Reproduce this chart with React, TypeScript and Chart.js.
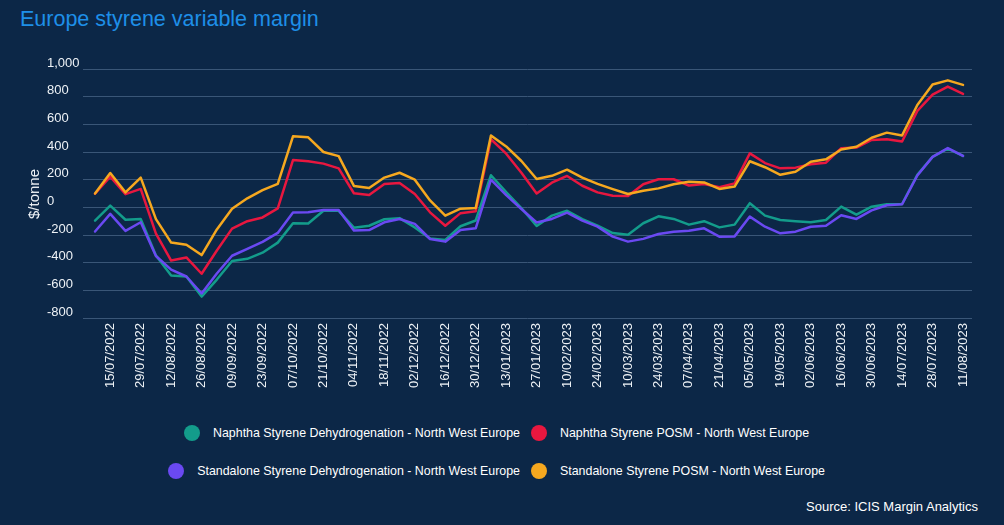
import React, { useEffect, useRef } from "react";
import { Chart, registerables } from "chart.js";

Chart.register(...registerables);

const weekLabels = [
  "08/07/2022", "15/07/2022", "22/07/2022", "29/07/2022", "05/08/2022", "12/08/2022",
  "19/08/2022", "26/08/2022", "02/09/2022", "09/09/2022", "16/09/2022", "23/09/2022",
  "30/09/2022", "07/10/2022", "14/10/2022", "21/10/2022", "28/10/2022", "04/11/2022",
  "11/11/2022", "18/11/2022", "25/11/2022", "02/12/2022", "09/12/2022", "16/12/2022",
  "23/12/2022", "30/12/2022", "06/01/2023", "13/01/2023", "20/01/2023", "27/01/2023",
  "03/02/2023", "10/02/2023", "17/02/2023", "24/02/2023", "03/03/2023", "10/03/2023",
  "17/03/2023", "24/03/2023", "31/03/2023", "07/04/2023", "14/04/2023", "21/04/2023",
  "28/04/2023", "05/05/2023", "12/05/2023", "19/05/2023", "26/05/2023", "02/06/2023",
  "09/06/2023", "16/06/2023", "23/06/2023", "30/06/2023", "07/07/2023", "14/07/2023",
  "21/07/2023", "28/07/2023", "04/08/2023", "11/08/2023",
];

const naphthaDehydrogenation = [
  -96, 12, -90, -85, -348, -493, -500, -645, -522, -388, -372, -328, -255, -115, -117, -25,
  -25, -147, -133, -86, -78, -145, -225, -236, -137, -95, 232, 110, -5, -135, -60, -25,
  -85, -132, -186, -198, -115, -65, -84, -125, -100, -145, -125, 30, -60, -92, -101, -108,
  -92, 5, -53, 5, 22, 24, 235, 365, 425, 372,
];

const naphthaPosm = [
  98, 222, 95, 133, -190, -385, -362, -480, -312, -154, -100, -73, -8, 342, 333, 316,
  282, 102, 89, 168, 176, 96, -36, -133, -42, -28, 492, 388, 250, 100, 178, 227,
  156, 108, 84, 82, 167, 203, 203, 158, 168, 145, 173, 390, 320, 282, 287, 312,
  323, 428, 432, 487, 492, 476, 697, 815, 873, 820,
];

const standaloneDehydrogenation = [
  -175, -47, -170, -108, -352, -450, -500, -623, -478, -350, -300, -250, -185, -38, -35, -20,
  -20, -168, -164, -108, -84, -120, -229, -248, -164, -152, 200, 88, -12, -110, -84, -38,
  -96, -140, -212, -248, -228, -193, -176, -169, -152, -212, -210, -67, -140, -188, -176, -140,
  -133, -57, -84, -22, 15, 22, 230, 365, 428, 372,
];

const standalonePosm = [
  100, 248, 108, 215, -85, -255, -270, -345, -160, -10, 65, 125, 170, 513, 506, 400,
  370, 155, 140, 215, 250, 200, 50, -60, -10, -5, 520, 440, 335, 205, 228, 272,
  215, 170, 132, 96, 120, 137, 167, 185, 180, 133, 150, 333, 290, 235, 257, 330,
  347, 418, 438, 503, 540, 520, 740, 888, 918, 885,
];

const yTicks = [-800, -600, -400, -200, 0, 200, 400, 600, 800, 1000];

const seriesNames = [
  "Naphtha Styrene Dehydrogenation - North West Europe",
  "Naphtha Styrene POSM - North West Europe",
  "Standalone Styrene Dehydrogenation - North West Europe",
  "Standalone Styrene POSM - North West Europe",
];

const BG = "#0c2747";
const TEXT = "#eef2f6";
const GRID = "#3a5677";
const TEAL = "#139c8b";
const RED = "#e8173f";
const PURPLE = "#6a49f2";
const ORANGE = "#f6a81f";
const FONT = "'Liberation Sans', Arial, sans-serif";

function LegendItem({ color, text }: { color: string; text: string }) {
  return (
    <div style={{ display: "flex", alignItems: "center", height: 20 }}>
      <div
        style={{
          width: 16,
          height: 16,
          borderRadius: "50%",
          background: color,
          marginRight: 13,
          flex: "0 0 auto",
        }}
      />
      <span style={{ fontSize: 12.4, color: "#ffffff", whiteSpace: "nowrap" }}>{text}</span>
    </div>
  );
}

export default function App() {
  const canvasRef = useRef<HTMLCanvasElement>(null);

  useEffect(() => {
    const canvas = canvasRef.current;
    if (!canvas) return;
    const toPoints = (arr: number[]) => arr.map((y, x) => ({ x, y }));
    const chart = new Chart(canvas, {
      type: "line",
      data: {
        datasets: [
          { label: seriesNames[0], data: toPoints(naphthaDehydrogenation), borderColor: TEAL, backgroundColor: TEAL, order: 4 },
          { label: seriesNames[1], data: toPoints(naphthaPosm), borderColor: RED, backgroundColor: RED, order: 3 },
          { label: seriesNames[2], data: toPoints(standaloneDehydrogenation), borderColor: PURPLE, backgroundColor: PURPLE, order: 2 },
          { label: seriesNames[3], data: toPoints(standalonePosm), borderColor: ORANGE, backgroundColor: ORANGE, order: 1 },
        ],
      },
      options: {
        animation: false,
        responsive: false,
        devicePixelRatio: 1,
        layout: { padding: { top: 69, right: 32, bottom: 0, left: 47 } },
        elements: {
          point: { radius: 0, hoverRadius: 0 },
          line: { borderWidth: 2.5, tension: 0, borderJoinStyle: "round", borderCapStyle: "round" },
        },
        plugins: {
          legend: { display: false },
          tooltip: { enabled: false },
          title: { display: false },
        },
        scales: {
          x: {
            type: "linear",
            min: -0.79,
            max: 57.59,
            afterBuildTicks: (axis: any) => {
              axis.ticks = weekLabels.map((_, i) => ({ value: i }));
            },
            afterFit: (axis: any) => {
              axis.height = 82;
            },
            grid: { display: false, drawTicks: false },
            border: { display: false },
            ticks: {
              autoSkip: false,
              maxRotation: 90,
              minRotation: 90,
              padding: 5,
              color: TEXT,
              font: { family: FONT, size: 13 },
              callback: (v: any) => (Number.isInteger(v) && v % 2 === 1 ? weekLabels[v] : ""),
            },
          },
          y: {
            min: -800,
            max: 1000,
            afterBuildTicks: (axis: any) => {
              axis.ticks = yTicks.map((v) => ({ value: v }));
            },
            afterFit: (axis: any) => {
              axis.width = 36;
            },
            grid: { color: GRID, lineWidth: 1, drawTicks: false },
            border: { display: false },
            ticks: {
              crossAlign: "far",
              padding: 3,
              labelOffset: -6,
              color: TEXT,
              font: { family: FONT, size: 13 },
              callback: (v: any) => Number(v).toLocaleString("en-US"),
            },
            title: { display: false },
          },
        },
      } as any,
    });
    return () => chart.destroy();
  }, []);

  return (
    <div
      style={{
        position: "absolute",
        left: 0,
        top: 0,
        width: 1004,
        height: 525,
        background: BG,
        overflow: "hidden",
        fontFamily: FONT,
      }}
    >
      <div
        style={{
          position: "absolute",
          left: 20,
          top: 9,
          fontSize: 21.5,
          lineHeight: 1,
          color: "#1e8fe8",
          whiteSpace: "nowrap",
        }}
      >
        Europe styrene variable margin
      </div>
      <canvas
        ref={canvasRef}
        width={1004}
        height={400}
        style={{ position: "absolute", left: 0, top: 0, width: 1004, height: 400 }}
      />
      <div
        style={{
          position: "absolute",
          left: 33.5,
          top: 193.5,
          width: 0,
          height: 0,
          overflow: "visible",
        }}
      >
        <div
          style={{
            position: "absolute",
            left: 0,
            top: 0,
            transform: "translate(-50%, -50%) rotate(-90deg)",
            fontSize: 15,
            lineHeight: "18px",
            color: TEXT,
            whiteSpace: "nowrap",
          }}
        >
          $/tonne
        </div>
      </div>
      <div style={{ position: "absolute", left: 0, width: 520, top: 423, display: "flex", justifyContent: "flex-end" }}>
        <LegendItem color={TEAL} text={seriesNames[0]} />
      </div>
      <div style={{ position: "absolute", left: 531, top: 423 }}>
        <LegendItem color={RED} text={seriesNames[1]} />
      </div>
      <div style={{ position: "absolute", left: 0, width: 520, top: 461, display: "flex", justifyContent: "flex-end" }}>
        <LegendItem color={PURPLE} text={seriesNames[2]} />
      </div>
      <div style={{ position: "absolute", left: 531, top: 461 }}>
        <LegendItem color={ORANGE} text={seriesNames[3]} />
      </div>
      <div
        style={{
          position: "absolute",
          right: 26,
          top: 500,
          fontSize: 13,
          lineHeight: "14px",
          color: "#ffffff",
          whiteSpace: "nowrap",
        }}
      >
        Source: ICIS Margin Analytics
      </div>
    </div>
  );
}
